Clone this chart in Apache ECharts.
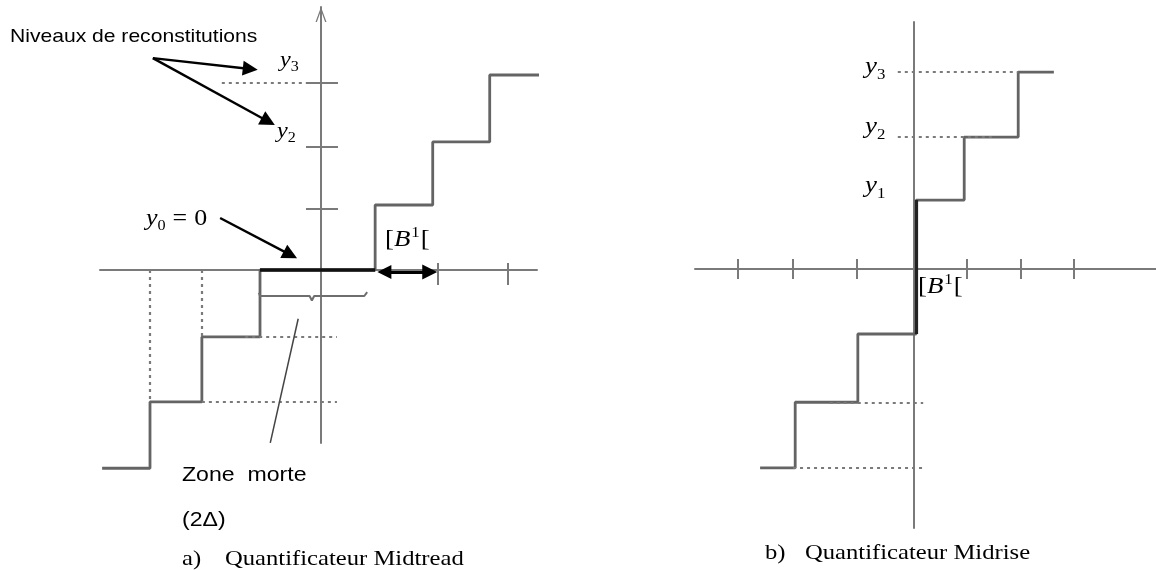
<!DOCTYPE html>
<html><head><meta charset="utf-8">
<script src="https://cdn.jsdelivr.net/npm/echarts@6/dist/echarts.min.js"></script>
<style>html,body{margin:0;padding:0;background:#fff}#c{width:1156px;height:570px}</style>
</head><body><div id="c"></div>
<script>
// ---------------- data (quantizer units, step Δ = 1) ----------------
// a) Midtread: tread start abscissas and their reconstruction levels
const midtreadX = [-3.84, -3.0, -2.09, -1.07, 0.95, 1.96, 2.96, 4.02];
const midtreadY = [-3.05, -2.03, -1.03, 0, 1.0, 1.97, 3.0, 3.0];
const midtreadDeadZone = [-1.07, 0.95];
const midtreadLevelTicks = [0.94, 1.89, 2.88];
const midtreadStepTicks = [2.04, 3.28];
// dotted guides [x1, y1, x2, y2]
const midtreadGuides = [[-3.0, 0, -3.0, -2.03], [-2.09, 0, -2.09, -1.03],
  [-1.33, -1.03, 0.28, -1.03], [-2.09, -2.03, 0.28, -2.03], [-1.74, 2.88, -0.23, 2.88]];
// b) Midrise
const midriseX = [-2.85, -2.2, -1.04, 0.04, 0.93, 1.93, 2.59];
const midriseY = [-3.06, -2.05, -1.0, 1.06, 2.03, 3.03, 3.03];
const midriseRiser = [0.04, -1.0, 1.06];
const midriseStepTicks = [-3.26, -2.24, -1.06, 0.98, 1.98, 2.96];
const midriseGuides = [[-0.3, 3.03, 1.93, 3.03], [-0.3, 2.03, 1.46, 2.03],
  [-1.56, -2.05, 0.17, -2.05], [-2.24, -3.06, 0.17, -3.06]];
// annotations (panel a units) [x1, y1, x2, y2]
const levelArrows = [[-2.95, 3.26, -1.11, 3.08], [-2.95, 3.26, -0.81, 2.23]];
const zeroArrow = [-1.77, 0.8, -0.42, 0.18];
const stepArrow = [0.98, -0.03, 2.04, -0.03];
const deadZoneLeader = [-0.40, -0.75, -0.89, -2.66];
const deadZoneBrace = [[-1.09, -0.35], [-1.07, -0.40], [-0.2, -0.40], [-0.16, -0.47], [-0.12, -0.40], [0.76, -0.40], [0.81, -0.34]];
// texts
const txtLevels = 'Niveaux de reconstitutions';
const txtDead = 'Zone  morte';
const txtDead2 = '(2\u0394)';
const txtTitleA = ['a)', 'Quantificateur Midtread'];
const txtTitleB = ['b)', 'Quantificateur Midrise'];

// ---------------- layout ----------------
const L = {ox: 321, oy: 270, ux: 57, uy: 65, xL: 100, xR: 537, yT: 7, yB: 443};
const R = {ox: 914, oy: 269, ux: 54, uy: 65, xL: 695, xR: 1156, yT: 22, yB: 528};
const AX = '#7a7a7a', STEP = '#646464', DOT = '#7a7a7a';
const SANS = '"Liberation Sans", Arial, sans-serif';
const SERIF = '"Liberation Serif", "Times New Roman", serif';

function grid(p) { return {left: p.xL, top: p.yT, width: p.xR - p.xL, height: p.yB - p.yT}; }
function xAxis(p, i) {
  return {type: 'value', gridIndex: i, min: (p.xL - p.ox) / p.ux, max: (p.xR - p.ox) / p.ux,
    axisLine: {onZero: true, lineStyle: {color: AX, width: 2}},
    axisTick: {show: false}, axisLabel: {show: false}, splitLine: {show: false}};
}
function yAxis(p, i, arrow) {
  return {type: 'value', gridIndex: i, min: (p.oy - p.yB) / p.uy, max: (p.oy - p.yT) / p.uy,
    axisLine: {onZero: true, lineStyle: {color: AX, width: 2},
      symbol: arrow ? ['none', 'path://M0,15 L5.5,0 L11,15 L9.6,15 L5.5,3.6 L1.4,15 Z'] : 'none',
      symbolSize: [11, 15], symbolOffset: [0, -7.5]},
    axisTick: {show: false}, axisLabel: {show: false}, splitLine: {show: false}};
}
function stepPoints(xs, ys) {
  const pts = [];
  for (let i = 0; i < xs.length; i++) {
    pts.push([xs[i], ys[i]]);
    if (i < xs.length - 1) pts.push([xs[i + 1], ys[i]]);
  }
  return pts;
}
function segs(list) { return list.map(s => ({coords: [[s[0], s[1]], [s[2], s[3]]]})); }
function shorten(p, s, backEnd, backStart) {
  const dx = (s[2] - s[0]) * p.ux, dy = (s[3] - s[1]) * p.uy, len = Math.hypot(dx, dy);
  const ke = backEnd / len, ks = (backStart || 0) / len;
  return [s[0] + (s[2] - s[0]) * ks, s[1] + (s[3] - s[1]) * ks, s[2] - (s[2] - s[0]) * ke, s[3] - (s[3] - s[1]) * ke];
}
function linesSeries(gi, data, style, extra) {
  return Object.assign({type: 'lines', coordinateSystem: 'cartesian2d', xAxisIndex: gi, yAxisIndex: gi,
    data: data, lineStyle: Object.assign({curveness: 0, opacity: 1}, style), symbol: 'none', silent: true,
    clip: false, z: 4}, extra || {});
}

// ticks
const lTickY = midtreadLevelTicks.map(v => [-15 / L.ux, v, 17 / L.ux, v]);
const lTickX = midtreadStepTicks.map(v => [v, 7 / L.uy, v, -15 / L.uy]);
const rTickX = midriseStepTicks.map(v => [v, 10 / R.uy, v, -10 / R.uy]);

const HEAD = 15;
const DOTS = {color: DOT, width: 2.2, type: [3, 4]};
const series = [
  {type: 'line', xAxisIndex: 0, yAxisIndex: 0, data: stepPoints(midtreadX, midtreadY), showSymbol: false,
    symbol: 'none', clip: false, silent: true, z: 3, lineStyle: {color: STEP, width: 2.8}},
  linesSeries(0, segs([[midtreadDeadZone[0], 0, midtreadDeadZone[1], 0]]), {color: '#111', width: 3.5}),
  linesSeries(0, segs(lTickY.concat(lTickX)), {color: AX, width: 2}),
  linesSeries(0, segs(midtreadGuides), DOTS),
  linesSeries(0, segs(levelArrows.concat([zeroArrow]).map(s => shorten(L, s, HEAD / 2))),
    {color: '#000', width: 2.4}, {symbol: ['none', 'triangle'], symbolSize: [13, HEAD], z: 6}),
  linesSeries(0, segs([shorten(L, stepArrow, HEAD / 2, HEAD / 2)]),
    {color: '#000', width: 3}, {symbol: ['triangle', 'triangle'], symbolSize: [14, HEAD], z: 6}),
  linesSeries(0, segs([deadZoneLeader]), {color: '#444', width: 1.5}),
  {type: 'line', xAxisIndex: 0, yAxisIndex: 0, data: deadZoneBrace, showSymbol: false, symbol: 'none',
    clip: false, silent: true, z: 4, lineStyle: {color: '#6e6e6e', width: 2}},

  {type: 'line', xAxisIndex: 1, yAxisIndex: 1, data: stepPoints(midriseX, midriseY), showSymbol: false,
    symbol: 'none', clip: false, silent: true, z: 3, lineStyle: {color: STEP, width: 2.8}},
  linesSeries(1, segs([[midriseRiser[0], midriseRiser[1], midriseRiser[0], midriseRiser[2]]]), {color: '#222', width: 3.2}),
  linesSeries(1, segs(rTickX), {color: AX, width: 2}),
  linesSeries(1, segs(midriseGuides), DOTS)
];

// ---------------- text helpers ----------------
const mctx = document.createElement('canvas').getContext('2d');
function tw(font, t) { mctx.font = font; return mctx.measureText(t).width; }
function run(x, base, parts, sx) {
  const out = []; let cx = x; sx = sx || 1;
  parts.forEach(p => {
    const font = (p.it ? 'italic ' : '') + p.sz + 'px ' + (p.ff || SERIF);
    out.push({type: 'text', x: cx, y: base + (p.dy || 0) - 0.34 * p.sz, scaleX: sx, silent: true, z: 10,
      style: {text: p.t, font: font, fill: '#000', align: 'left', verticalAlign: 'middle'}});
    cx += tw(font, p.t) * sx + (p.gap || 0);
  });
  return out;
}
function ysub(x, base, sub, sz, ssz, sdy, sx) {
  return run(x, base, [{t: 'y', sz: sz, it: true}, {t: sub, sz: ssz, dy: sdy}], sx);
}
function bLabel(x, base) {
  return run(x, base, [{t: '[', sz: 24}, {t: 'B', sz: 24, it: true, gap: 1}, {t: '1', sz: 15, dy: -10, gap: 1}, {t: '[', sz: 24}], 1.12);
}
let g = [];
g = g.concat(run(10, 43, [{t: txtLevels, sz: 19, ff: SANS}], 1.11));
g = g.concat(ysub(280, 68, '3', 21, 14, 4, 1.15));
g = g.concat(ysub(277, 139, '2', 21, 14, 4, 1.15));
g = g.concat(run(146, 227, [{t: 'y', sz: 24, it: true}, {t: '0', sz: 15, dy: 4, gap: 7}, {t: '=', sz: 24, gap: 7}, {t: '0', sz: 24}], 1.08));
g = g.concat(bLabel(385, 248));
g = g.concat(run(182, 482, [{t: txtDead, sz: 21, ff: SANS}], 1.1));
g = g.concat(run(182, 527, [{t: txtDead2, sz: 21, ff: SANS}], 1.1));
g = g.concat(run(182, 567, [{t: txtTitleA[0], sz: 22}], 1.12));
g = g.concat(run(225, 567, [{t: txtTitleA[1], sz: 22}], 1.12));
g = g.concat(ysub(865, 75, '3', 24, 15, 5, 1.12));
g = g.concat(ysub(865, 135, '2', 24, 15, 5, 1.12));
g = g.concat(ysub(865, 194, '1', 24, 15, 5, 1.12));
g = g.concat(bLabel(918, 295));
g = g.concat(run(765, 561, [{t: txtTitleB[0], sz: 22}], 1.12));
g = g.concat(run(805, 561, [{t: txtTitleB[1], sz: 22}], 1.12));

const chart = echarts.init(document.getElementById('c'), null, {renderer: 'canvas'});
chart.setOption({
  animation: false,
  backgroundColor: '#fff',
  grid: [grid(L), grid(R)],
  xAxis: [xAxis(L, 0), xAxis(R, 1)],
  yAxis: [yAxis(L, 0, true), yAxis(R, 1, false)],
  series: series,
  graphic: {elements: g}
});
</script></body></html>
